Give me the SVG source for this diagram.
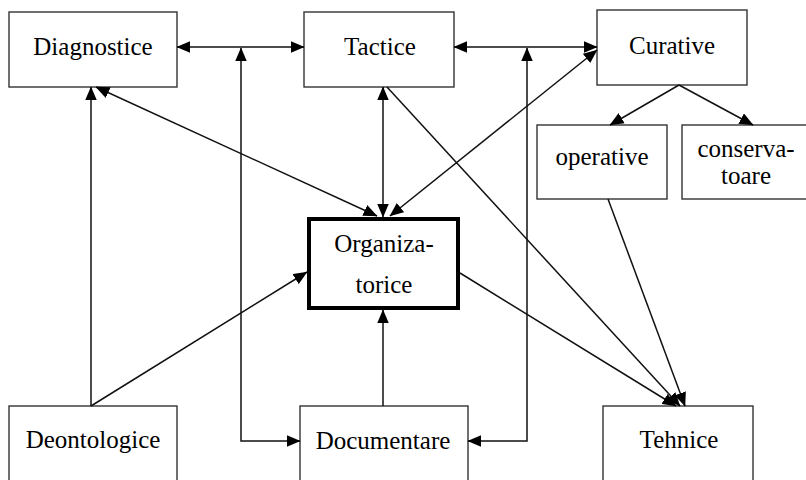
<svg xmlns="http://www.w3.org/2000/svg" width="806" height="480" viewBox="0 0 806 480">
<defs>
<marker id="ah" markerUnits="userSpaceOnUse" markerWidth="14" markerHeight="12" viewBox="0 0 13 11" refX="12.5" refY="5.5" orient="auto-start-reverse">
<path d="M0,0 L13,5.5 L0,11 z" fill="#000"/>
</marker>
<style>
.box{fill:#fff;stroke:#333;stroke-width:1.4}
.bold{fill:#fff;stroke:#000;stroke-width:4}
.t{font-family:"Liberation Serif","Times New Roman",serif;font-size:25px;fill:#000;text-anchor:middle}
.c line,.c path,.c polyline{stroke:#111;stroke-width:1.5;fill:none}
.a2{marker-start:url(#ah);marker-end:url(#ah)}
.a1{marker-end:url(#ah)}
</style>
</defs>
<rect width="806" height="480" fill="#fff"/>
<g id="diagnostice"><rect class="box" x="9" y="12" width="168" height="75"/><text class="t" x="93" y="55">Diagnostice</text></g>
<g id="tactice"><rect class="box" x="304" y="12" width="150" height="75"/><text class="t" x="380" y="55">Tactice</text></g>
<g id="curative"><rect class="box" x="597" y="10" width="150" height="75"/><text class="t" x="672" y="54">Curative</text></g>
<g id="operative"><rect class="box" x="537" y="125" width="130" height="74"/><text class="t" x="602" y="165">operative</text></g>
<g id="conservatoare"><rect class="box" x="682" y="125" width="130" height="74"/><text class="t" x="746" y="157">conserva-</text><text class="t" x="746" y="184">toare</text></g>
<g id="organizatorice"><rect class="bold" x="309" y="219" width="149" height="89"/><text class="t" x="384" y="252">Organiza-</text><text class="t" x="384" y="293">torice</text></g>
<g id="deontologice"><rect class="box" x="9" y="406" width="168" height="90"/><text class="t" x="93" y="448">Deontologice</text></g>
<g id="documentare"><rect class="box" x="300" y="406" width="168" height="90"/><text class="t" x="383" y="449">Documentare</text></g>
<g id="tehnice"><rect class="box" x="603" y="406" width="150" height="90"/><text class="t" x="679" y="448">Tehnice</text></g>
<g id="connectors" class="c">
<line class="a2" x1="177" y1="47" x2="304" y2="47"/>
<line class="a2" x1="454" y1="47" x2="597" y2="47"/>
<polyline class="a2" points="241,48 241,441 300,441"/>
<polyline class="a2" points="527,48 527,441 468,441"/>
<line class="a1" x1="91" y1="406" x2="91" y2="87"/>
<line class="a2" x1="96" y1="87" x2="377" y2="216"/>
<line class="a2" x1="383" y1="87" x2="383" y2="217"/>
<line class="a2" x1="390" y1="216" x2="597" y2="50"/>
<line class="a1" x1="91" y1="406" x2="307" y2="272"/>
<line class="a1" x1="383" y1="406" x2="383" y2="310"/>
<line class="a1" x1="387" y1="87" x2="680" y2="406"/>
<line class="a1" x1="460" y1="273" x2="676" y2="406"/>
<line class="a1" x1="608" y1="199" x2="685" y2="406"/>
<line class="a1" x1="679" y1="85" x2="610" y2="125"/>
<line class="a1" x1="679" y1="85" x2="753" y2="125"/>
</g>
</svg>
